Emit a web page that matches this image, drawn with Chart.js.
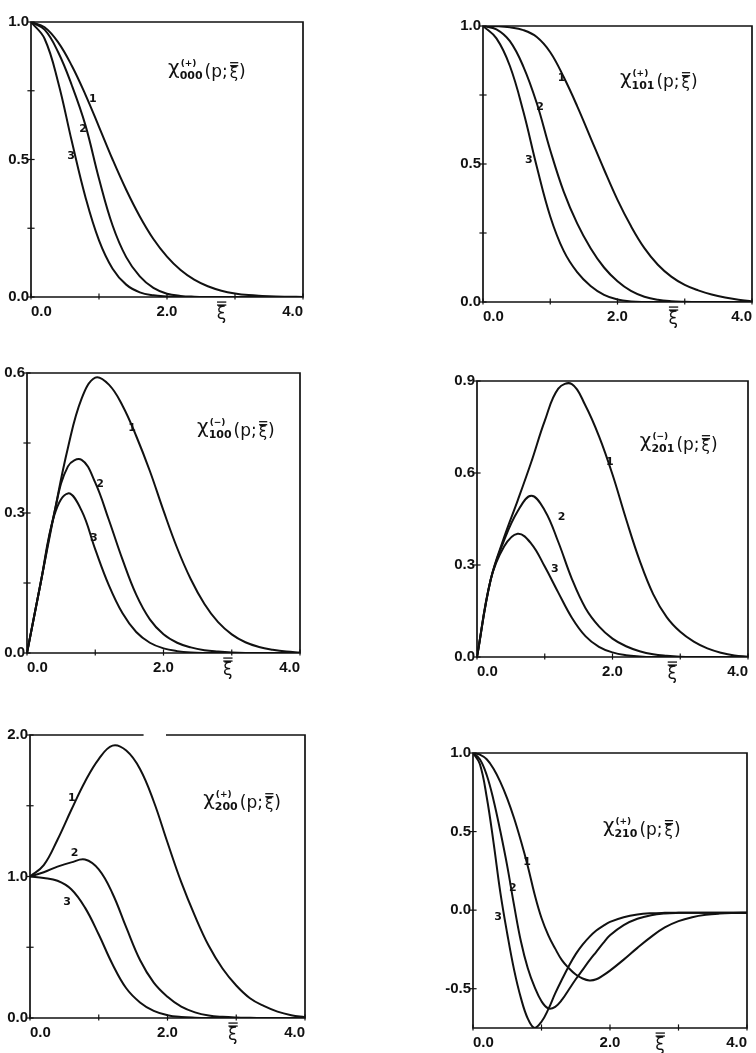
<!DOCTYPE html>
<html>
<head>
<meta charset="utf-8">
<script src="https://cdn.jsdelivr.net/npm/chart.js@4.4.0/dist/chart.umd.min.js"></script>
<style>
  html, body { margin: 0; padding: 0; background: #fff; width: 756px; height: 1053px; overflow: hidden; }
  canvas { position: absolute; }
</style>
</head>
<body>
<canvas id="p1"></canvas>
<canvas id="p2"></canvas>
<canvas id="p3"></canvas>
<canvas id="p4"></canvas>
<canvas id="p5"></canvas>
<canvas id="p6"></canvas>
<script>
// xi grid, step 0.2
const XI = [0, 0.2, 0.4, 0.6, 0.8, 1.0, 1.2, 1.4, 1.6, 1.8, 2.0, 2.2, 2.4, 2.6, 2.8, 3.0, 3.2, 3.4, 3.6, 3.8, 4.0];
// finer grid for chi_210 (fast drop and minima)
const XI_FINE = [0, 0.1, 0.2, 0.3, 0.4, 0.5, 0.6, 0.7, 0.8, 0.9, 1.0, 1.1, 1.2, 1.3, 1.4, 1.5, 1.6, 1.7, 1.8, 1.9, 2.0,
                 2.2, 2.4, 2.6, 2.8, 3.0, 3.2, 3.4, 3.6, 3.8, 4.0];

// chi(+)_000
const chi000_1 = [1, 0.981, 0.926, 0.841, 0.736, 0.619, 0.50, 0.39, 0.293, 0.211, 0.147, 0.098, 0.063, 0.039, 0.023, 0.013, 0.007, 0.004, 0.002, 0.001, 0];
const chi000_2 = [1, 0.972, 0.89, 0.77, 0.625, 0.43, 0.26, 0.145, 0.075, 0.033, 0.012, 0.004, 0.001, 0, 0, 0, 0, 0, 0, 0, 0];
const chi000_3 = [1, 0.939, 0.78, 0.566, 0.364, 0.206, 0.103, 0.045, 0.017, 0.006, 0.002, 0, 0, 0, 0, 0, 0, 0, 0, 0, 0];

// chi(+)_101
const chi101_1 = [1, 0.999, 0.995, 0.985, 0.96, 0.905, 0.815, 0.71, 0.595, 0.48, 0.37, 0.275, 0.195, 0.135, 0.092, 0.062, 0.042, 0.027, 0.016, 0.008, 0.002];
const chi101_2 = [1, 0.988, 0.945, 0.853, 0.72, 0.55, 0.40, 0.285, 0.195, 0.125, 0.075, 0.04, 0.019, 0.008, 0.003, 0.001, 0, 0, 0, 0, 0];
const chi101_3 = [1, 0.955, 0.855, 0.69, 0.49, 0.31, 0.185, 0.108, 0.058, 0.026, 0.009, 0.002, 0, 0, 0, 0, 0, 0, 0, 0, 0];

// chi(-)_100
const chi100_1 = [0, 0.15, 0.30, 0.44, 0.545, 0.59, 0.575, 0.53, 0.465, 0.39, 0.305, 0.225, 0.158, 0.105, 0.066, 0.04, 0.023, 0.013, 0.007, 0.003, 0.001];
const chi100_2 = [0, 0.15, 0.30, 0.40, 0.414, 0.365, 0.285, 0.20, 0.125, 0.072, 0.04, 0.022, 0.012, 0.006, 0.003, 0.001, 0, 0, 0, 0, 0];
const chi100_3 = [0, 0.15, 0.295, 0.342, 0.305, 0.222, 0.145, 0.085, 0.045, 0.022, 0.01, 0.004, 0.001, 0, 0, 0, 0, 0, 0, 0, 0];

// chi(-)_201
const chi201_1 = [0, 0.25, 0.39, 0.51, 0.635, 0.77, 0.875, 0.89, 0.82, 0.72, 0.595, 0.45, 0.315, 0.205, 0.13, 0.082, 0.05, 0.028, 0.014, 0.005, 0.001];
const chi201_2 = [0, 0.25, 0.38, 0.475, 0.526, 0.478, 0.375, 0.255, 0.16, 0.10, 0.06, 0.035, 0.019, 0.009, 0.004, 0.001, 0, 0, 0, 0, 0];
const chi201_3 = [0, 0.25, 0.36, 0.402, 0.37, 0.295, 0.21, 0.128, 0.068, 0.033, 0.015, 0.006, 0.002, 0, 0, 0, 0, 0, 0, 0, 0];

// chi(+)_200
const chi200_1 = [1.0, 1.08, 1.26, 1.47, 1.67, 1.83, 1.925, 1.89, 1.76, 1.53, 1.24, 0.96, 0.72, 0.51, 0.35, 0.23, 0.14, 0.085, 0.045, 0.02, 0.005];
const chi200_2 = [1.0, 1.03, 1.07, 1.10, 1.12, 1.05, 0.88, 0.64, 0.41, 0.25, 0.15, 0.08, 0.04, 0.018, 0.008, 0.003, 0.001, 0, 0, 0, 0];
const chi200_3 = [1.0, 0.99, 0.97, 0.91, 0.78, 0.59, 0.38, 0.21, 0.11, 0.05, 0.02, 0.007, 0.002, 0, 0, 0, 0, 0, 0, 0, 0];

// chi(+)_210, on XI_FINE
const chi210_1 = [1.0, 0.99, 0.96, 0.90, 0.815, 0.71, 0.585, 0.44, 0.28, 0.10, -0.05, -0.16, -0.245, -0.32, -0.37, -0.41, -0.435, -0.447, -0.44, -0.415, -0.385,
                  -0.315, -0.24, -0.17, -0.11, -0.07, -0.045, -0.03, -0.022, -0.018, -0.016];
const chi210_2 = [1.0, 0.96, 0.86, 0.70, 0.50, 0.28, 0.03, -0.20, -0.37, -0.49, -0.58, -0.625, -0.615, -0.57, -0.505, -0.44, -0.38, -0.32, -0.265, -0.21, -0.16,
                  -0.095, -0.055, -0.032, -0.021, -0.017, -0.016, -0.016, -0.016, -0.016, -0.016];
const chi210_3 = [1.0, 0.93, 0.72, 0.43, 0.11, -0.15, -0.38, -0.56, -0.69, -0.75, -0.71, -0.63, -0.53, -0.44, -0.355, -0.28, -0.22, -0.17, -0.13, -0.10, -0.075,
                  -0.045, -0.028, -0.02, -0.017, -0.016, -0.016, -0.016, -0.016, -0.016, -0.016];

// axis ticks: labelled values and small marks in between
const xTicks = [0, 1, 2, 3, 4];
const xLabelled = [0, 2, 4];
const yTicks000 = [0, 0.25, 0.5, 0.75, 1.0];
const yLabelled000 = [0, 0.5, 1.0];
const yTicks100 = [0, 0.15, 0.3, 0.45, 0.6];
const yLabelled100 = [0, 0.3, 0.6];
const yTicks201 = [0, 0.3, 0.6, 0.9];
const yLabelled201 = [0, 0.3, 0.6, 0.9];
const yTicks200 = [0, 0.5, 1.0, 1.5, 2.0];
const yLabelled200 = [0, 1.0, 2.0];
const yTicks210 = [-0.5, 0, 0.5, 1.0];
const yLabelled210 = [-0.5, 0, 0.5, 1.0];

const ink = '#111';
const tickFont = { family: '"Liberation Sans", Arial, sans-serif', size: 15, weight: 'bold' };

// xi with a double bar over it
function xiBar(ctx, x, base, size) {
  ctx.font = size + 'px "DejaVu Sans"';
  const w = ctx.measureText('ξ').width;
  ctx.fillText('ξ', x, base);
  const top = base - size * 0.82;
  ctx.lineWidth = 1.3;
  for (const dy of [0, 3]) {
    ctx.beginPath();
    ctx.moveTo(x + 1, top - dy);
    ctx.lineTo(x + w - 0.5, top - dy);
    ctx.stroke();
  }
  return w;
}

// function name such as chi^(+)_000(p; xi)
function drawName(ctx, x, base, sign, idx) {
  ctx.textAlign = 'left';
  ctx.textBaseline = 'alphabetic';
  ctx.font = '20px "DejaVu Sans"';
  ctx.fillText('χ', x, base - 3);
  let cx = x + ctx.measureText('χ').width + 1;
  const sup = '(' + sign + ')';
  ctx.font = 'bold 9px "DejaVu Sans"';
  ctx.fillText(sup, cx, base - 11);
  const supW = ctx.measureText(sup).width;
  ctx.font = 'bold 11px "DejaVu Sans"';
  ctx.fillText(idx, cx - 1, base + 2);
  cx += Math.max(supW, ctx.measureText(idx).width) + 1;
  ctx.font = '17px "DejaVu Sans"';
  ctx.fillText('(p;', cx, base);
  cx += ctx.measureText('(p;').width + 2;
  cx += xiBar(ctx, cx, base + 1, 15) + 1;
  ctx.font = '17px "DejaVu Sans"';
  ctx.fillText(')', cx, base);
}

const panelFrame = {
  id: 'panelFrame',
  afterDatasetsDraw(chart, args, o) {
    const { ctx, chartArea: a, scales: { x, y } } = chart;
    ctx.save();
    ctx.strokeStyle = ink;
    ctx.fillStyle = ink;
    ctx.lineWidth = 1.7;
    ctx.lineCap = 'square';
    ctx.beginPath();
    ctx.moveTo(a.left, a.top);
    ctx.lineTo(a.left, a.bottom);
    ctx.lineTo(a.right, a.bottom);
    ctx.lineTo(a.right, a.top);
    if (o.topGap) {
      ctx.lineTo(x.getPixelForValue(o.topGap[1]), a.top);
      ctx.moveTo(x.getPixelForValue(o.topGap[0]), a.top);
    }
    ctx.lineTo(a.left, a.top);
    ctx.stroke();

    // short tick marks on the axes
    ctx.lineWidth = 1.2;
    for (const t of y.ticks) {
      const py = y.getPixelForValue(t.value);
      ctx.beginPath(); ctx.moveTo(a.left - 3, py); ctx.lineTo(a.left + 3, py); ctx.stroke();
    }
    for (const t of x.ticks) {
      const px = x.getPixelForValue(t.value);
      ctx.beginPath(); ctx.moveTo(px, a.bottom - 3); ctx.lineTo(px, a.bottom + 2); ctx.stroke();
    }

    // curve numbers
    ctx.font = 'bold 11px "DejaVu Sans"';
    ctx.textAlign = 'center';
    ctx.textBaseline = 'middle';
    for (const [vx, vy, s] of o.marks) {
      ctx.fillText(s, x.getPixelForValue(vx), y.getPixelForValue(vy));
    }

    // xi under the horizontal axis
    ctx.textAlign = 'left';
    ctx.textBaseline = 'alphabetic';
    ctx.font = '17px "DejaVu Sans"';
    const xw = ctx.measureText('ξ').width;
    xiBar(ctx, x.getPixelForValue(o.xiAt) - xw / 2, a.bottom + 22, 17);

    drawName(ctx, a.left + o.name.at[0] * (a.right - a.left), a.top + o.name.at[1] * (a.bottom - a.top), o.name.sign, o.name.idx);
    ctx.restore();
  }
};

function curve(xs, ys) {
  return {
    data: xs.map((v, i) => ({ x: v, y: ys[i] })),
    borderColor: ink,
    borderWidth: 2,
    pointRadius: 0,
    fill: false,
    tension: 0.4
  };
}

function panel(id, box, xs, series, yMin, yMax, yTicks, yLabelled, frame) {
  const padTop = 12, padRight = 8, xH = 36;
  const cv = document.getElementById(id);
  cv.width = box.r - box.l + box.yW + padRight;
  cv.height = box.b - box.t + padTop + xH;
  cv.style.left = (box.l - box.yW) + 'px';
  cv.style.top = (box.t - padTop) + 'px';

  new Chart(cv, {
    type: 'line',
    data: { datasets: series.map(s => curve(xs, s)) },
    plugins: [panelFrame],
    options: {
      responsive: false,
      animation: false,
      events: [],
      layout: { padding: { top: padTop, right: padRight, left: 0, bottom: 0 } },
      plugins: {
        legend: { display: false },
        tooltip: { enabled: false },
        panelFrame: frame
      },
      scales: {
        x: {
          type: 'linear', min: 0, max: 4,
          afterBuildTicks: s => { s.ticks = xTicks.map(v => ({ value: v })); },
          afterFit: s => { s.height = xH; },
          grid: { display: false, drawTicks: false },
          border: { display: false },
          ticks: {
            autoSkip: false, maxRotation: 0, align: 'inner', padding: 6,
            color: ink, font: tickFont,
            callback: v => xLabelled.includes(v) ? v.toFixed(1) : ''
          }
        },
        y: {
          type: 'linear', min: yMin, max: yMax,
          afterBuildTicks: s => { s.ticks = yTicks.map(v => ({ value: v })); },
          afterFit: s => { s.width = box.yW; },
          grid: { display: false, drawTicks: false },
          border: { display: false },
          ticks: {
            autoSkip: false, padding: 2,
            color: ink, font: tickFont,
            callback: v => yLabelled.includes(v) ? v.toFixed(1) : ''
          }
        }
      }
    }
  });
}

panel('p1', { l: 31, t: 22, r: 303, b: 297, yW: 31 }, XI, [chi000_1, chi000_2, chi000_3], 0, 1, yTicks000, yLabelled000, {
  marks: [[0.91, 0.72, '1'], [0.765, 0.61, '2'], [0.59, 0.513, '3']],
  xiAt: 2.8,
  name: { sign: '+', idx: '000', at: [0.504, 0.20] }
});

panel('p2', { l: 483, t: 26, r: 752, b: 302, yW: 40 }, XI, [chi101_1, chi101_2, chi101_3], 0, 1, yTicks000, yLabelled000, {
  marks: [[1.17, 0.81, '1'], [0.85, 0.707, '2'], [0.68, 0.514, '3']],
  xiAt: 2.83,
  name: { sign: '+', idx: '101', at: [0.509, 0.221] }
});

panel('p3', { l: 27, t: 373, r: 300, b: 653, yW: 27 }, XI, [chi100_1, chi100_2, chi100_3], 0, 0.6, yTicks100, yLabelled100, {
  marks: [[1.54, 0.482, '1'], [1.07, 0.362, '2'], [0.98, 0.246, '3']],
  xiAt: 2.94,
  name: { sign: '−', idx: '100', at: [0.623, 0.225] }
});

panel('p4', { l: 477, t: 381, r: 748, b: 657, yW: 40 }, XI, [chi201_1, chi201_2, chi201_3], 0, 0.9, yTicks201, yLabelled201, {
  marks: [[1.96, 0.636, '1'], [1.25, 0.456, '2'], [1.15, 0.287, '3']],
  xiAt: 2.88,
  name: { sign: '−', idx: '201', at: [0.601, 0.25] }
});

panel('p5', { l: 30, t: 735, r: 305, b: 1018, yW: 30 }, XI, [chi200_1, chi200_2, chi200_3], 0, 2, yTicks200, yLabelled200, {
  marks: [[0.61, 1.555, '1'], [0.65, 1.166, '2'], [0.54, 0.82, '3']],
  xiAt: 2.95,
  topGap: [1.64, 1.99],
  name: { sign: '+', idx: '200', at: [0.63, 0.258] }
});

panel('p6', { l: 473, t: 753, r: 747, b: 1028, yW: 40 }, XI_FINE, [chi210_1, chi210_2, chi210_3], -0.75, 1, yTicks210, yLabelled210, {
  marks: [[0.79, 0.307, '1'], [0.58, 0.141, '2'], [0.365, -0.043, '3']],
  xiAt: 2.73,
  name: { sign: '+', idx: '210', at: [0.474, 0.298] }
});
</script>
</body>
</html>
